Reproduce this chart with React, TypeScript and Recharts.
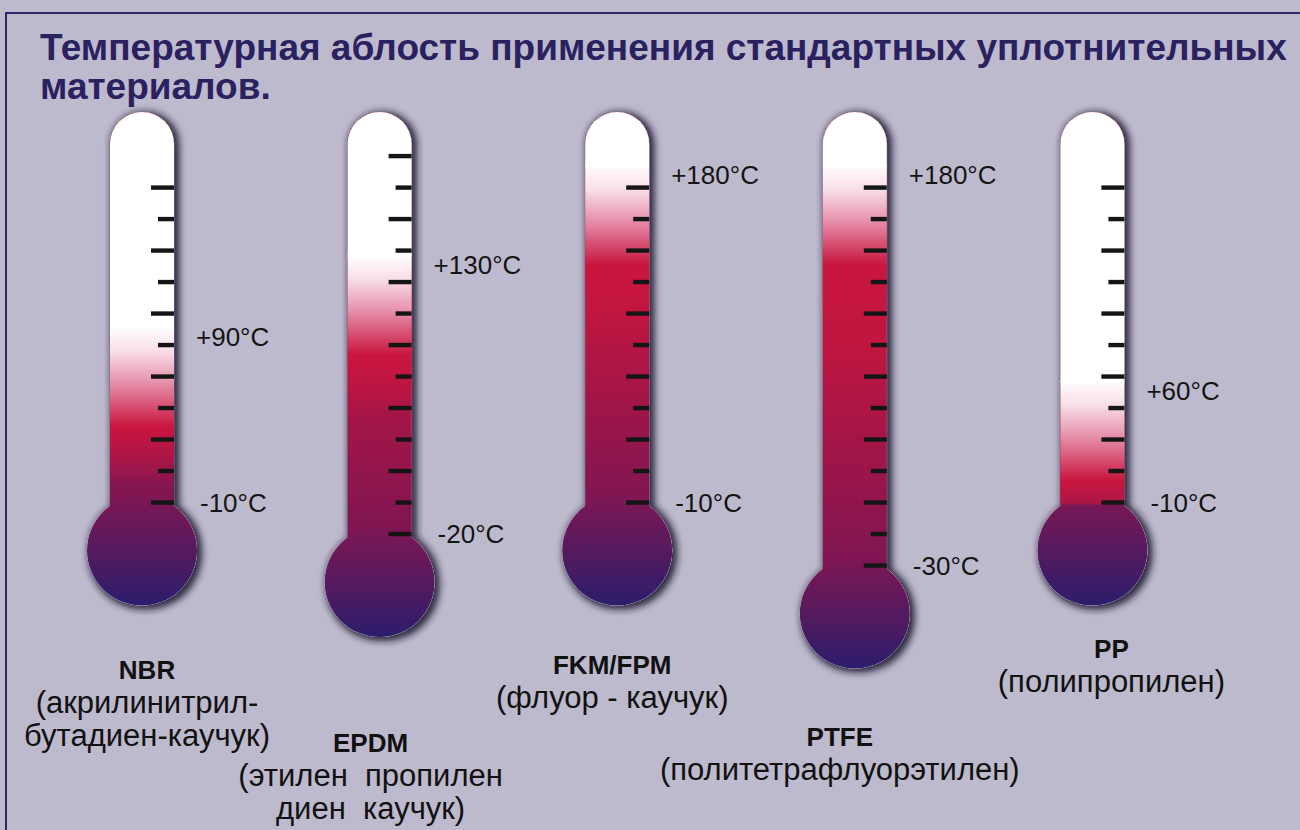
import React from 'react';
import { ComposedChart, Bar, XAxis, YAxis } from 'recharts';

// ---------- data ----------
const materials = ['NBR', 'EPDM', 'FKM/FPM', 'PTFE', 'PP'];
const minTemps = [-10, -20, -10, -30, -10];
const maxTemps = [90, 130, 180, 180, 60];
const descriptions: string[][] = [
  ['(акрилинитрил-', 'бутадиен-каучук)'],
  ['(этилен  пропилен', 'диен  каучук)'],
  ['(флуор - каучук)'],
  ['(политетрафлуорэтилен)'],
  ['(полипропилен)'],
];
const scaleMarks = [11, 13, 11, 13, 11];
const titleLines = ['Температурная аблость применения стандартных уплотнительных', 'материалов.'];

const data = materials.map((name, i) => ({ name, min: minTemps[i], max: maxTemps[i], desc: descriptions[i] }));

// ---------- scales / style ----------
const LOW_DOMAIN: [number, number] = [-60, 114];
const HIGH_DOMAIN: [number, number] = [-90, 215];
const TUBE_W = 64;
const TUBE_R = TUBE_W / 2;
const BULB_R = 55;
const BULB_DROP = 48;
const NAME_DY = [176, 218, 171, 180, 155];
const LABEL_DX = [5, -9, -5, -15, 19];
const FONT = '"Liberation Sans", Arial, sans-serif';
const BG = '#bebacd';

const tubePath = (cx: number, top: number, bottom: number) =>
  `M${cx - TUBE_R},${bottom} L${cx - TUBE_R},${top + TUBE_R} A${TUBE_R},${TUBE_R} 0 0 1 ${cx + TUBE_R},${top + TUBE_R} L${cx + TUBE_R},${bottom} Z`;

const bounds = (y: number, h: number) => [Math.min(y, y + h), Math.max(y, y + h)];

const GlassShape = (props: any) => {
  const { x, y, width, height, index } = props;
  const cx = x + width / 2;
  const [top, bottom] = bounds(y, height);
  const bcy = bottom + BULB_DROP;
  const id = `t${index}`;
  const path = tubePath(cx, top, bottom + 10);
  return (
    <g>
      <defs>
        <clipPath id={`clip-${id}`}>
          <path d={tubePath(cx, top, bottom + 2)} />
        </clipPath>
        <filter id={`sh-${id}`} x="-60%" y="-20%" width="220%" height="140%">
          <feMorphology in="SourceAlpha" operator="dilate" radius={1.5} result="grow" />
          <feGaussianBlur in="grow" stdDeviation={3.5} result="blur" />
          <feOffset in="blur" dx={3} dy={2} result="off" />
          <feFlood floodColor="#1c1830" floodOpacity={0.9} />
          <feComposite in2="off" operator="in" result="shadow" />
          <feMerge>
            <feMergeNode in="shadow" />
            <feMergeNode in="SourceGraphic" />
          </feMerge>
        </filter>
        <linearGradient id={`liq-${id}`} gradientUnits="userSpaceOnUse" x1={0} y1={top} x2={0} y2={bottom}>
          <stop offset="0" stopColor="#c9163f" />
          <stop offset="0.5" stopColor="#c1163f" />
          <stop offset="0.8" stopColor="#9a154a" />
          <stop offset="1" stopColor="#7e1654" />
        </linearGradient>
        <linearGradient id={`bulb-${id}`} gradientUnits="userSpaceOnUse" x1={0} y1={bcy - BULB_R} x2={0} y2={bcy + BULB_R}>
          <stop offset="0" stopColor="#7e1654" />
          <stop offset="0.45" stopColor="#5a1a5d" />
          <stop offset="1" stopColor="#2c1d6c" />
        </linearGradient>
      </defs>
      <g filter={`url(#sh-${id})`}>
        <path d={path} fill="#fff" stroke="#6a6580" strokeWidth={0.8} />
        <circle cx={cx} cy={bcy} r={BULB_R} fill="#fff" />
      </g>
      <path d={path} fill={`url(#liq-${id})`} />
      <circle cx={cx} cy={bcy} r={BULB_R} fill={`url(#bulb-${id})`} />
    </g>
  );
};

const FadeShape = (props: any) => {
  const { x, y, width, height, index, payload } = props;
  const cx = x + width / 2;
  const [top, mark] = bounds(y, height);
  const id = `t${index}`;
  const g0 = mark - 10;
  const g1 = mark + 150;
  const len = g1 - g0;
  const off = (v: number) => String((v - g0) / len);
  return (
    <g>
      <defs>
        <linearGradient id={`fade-${id}`} gradientUnits="userSpaceOnUse" x1={0} y1={g0} x2={0} y2={g1}>
          <stop offset="0" stopColor="#ffffff" stopOpacity={1} />
          <stop offset={off(mark + 15)} stopColor="#f8dde6" stopOpacity={1} />
          <stop offset={off(mark + 45)} stopColor="#e792ad" stopOpacity={1} />
          <stop offset={off(mark + 90)} stopColor="#c9163f" stopOpacity={1} />
          <stop offset="1" stopColor="#c9163f" stopOpacity={0} />
        </linearGradient>
      </defs>
      <g clipPath={`url(#clip-${id})`}>
        <rect x={cx - TUBE_R - 5} y={g0} width={TUBE_W + 10} height={len} fill={`url(#fade-${id})`} />
        <rect x={cx - TUBE_R - 5} y={top - 20} width={TUBE_W + 10} height={g0 - top + 22} fill="#ffffff" />
      </g>
      <text x={cx + TUBE_R + 22} y={mark} dy="0.36em" fontFamily={FONT} fontSize={26} fill="#141414">
        {`+${payload.max}°C`}
      </text>
    </g>
  );
};

const TickShape = (props: any) => {
  const { x, y, width, height, index, payload } = props;
  const cx = x + width / 2;
  const right = cx + TUBE_R;
  const [top, bottom] = bounds(y, height);
  const pxPerDeg = (bottom - top) / (LOW_DOMAIN[1] - payload.min);
  const step = 10 * pxPerDeg;
  const n = scaleMarks[index];
  const ticks = [];
  for (let k = 0; k < n; k++) {
    const ty = bottom - k * step;
    const len = k % 2 === 0 ? 23 : 16;
    ticks.push(<rect key={k} x={right - len} y={ty - 2.2} width={len} height={4.4} fill="#151515" />);
  }
  const nameY = bottom + NAME_DY[index];
  const lx = cx + LABEL_DX[index];
  return (
    <g>
      {ticks}
      <text x={right + 26} y={bottom} dy="0.36em" fontFamily={FONT} fontSize={26} fill="#141414">
        {`${payload.min}°C`}
      </text>
      <text x={lx} y={nameY} textAnchor="middle" fontFamily={FONT} fontWeight="bold" fontSize={26} fill="#111">
        {payload.name}
      </text>
      {payload.desc.map((line: string, i: number) => (
        <text
          key={i}
          x={lx}
          y={nameY + 34 + i * 33}
          textAnchor="middle"
          fontFamily={FONT}
          fontSize={31}
          fill="#111"
          style={{ whiteSpace: 'pre' }}
        >
          {line}
        </text>
      ))}
    </g>
  );
};

export default function App() {
  return (
    <div style={{ position: 'absolute', left: 0, top: 0, width: 1300, height: 830, background: BG, overflow: 'hidden' }}>
      <div
        style={{
          position: 'absolute',
          left: 5,
          top: 12,
          width: 1400,
          height: 900,
          borderTop: '2.5px solid #2c2868',
          borderLeft: '2.5px solid #2c2868',
        }}
      />
      <div
        style={{
          position: 'absolute',
          left: 40,
          top: 28,
          fontFamily: FONT,
          fontWeight: 'bold',
          fontSize: 37,
          lineHeight: '39px',
          color: '#2a2160',
          whiteSpace: 'nowrap',
        }}
      >
        {titleLines.map((l, i) => (
          <div key={i}>{l}</div>
        ))}
      </div>
      <div style={{ position: 'absolute', left: 0, top: 0 }}>
        <ComposedChart
          width={1300}
          height={830}
          data={data}
          margin={{ top: 112, right: 89, bottom: 170, left: 23 }}
          barSize={TUBE_W}
          barGap={-TUBE_W}
        >
          <XAxis dataKey="name" type="category" hide />
          <YAxis yAxisId="low" type="number" domain={LOW_DOMAIN} hide />
          <YAxis yAxisId="high" type="number" domain={HIGH_DOMAIN} hide />
          <Bar yAxisId="low" dataKey={(d: any) => [d.min, LOW_DOMAIN[1]]} shape={GlassShape} isAnimationActive={false} />
          <Bar yAxisId="high" dataKey={(d: any) => [d.max, HIGH_DOMAIN[1]]} shape={FadeShape} isAnimationActive={false} />
          <Bar yAxisId="low" dataKey={(d: any) => [d.min, LOW_DOMAIN[1]]} shape={TickShape} isAnimationActive={false} />
        </ComposedChart>
      </div>
    </div>
  );
}
